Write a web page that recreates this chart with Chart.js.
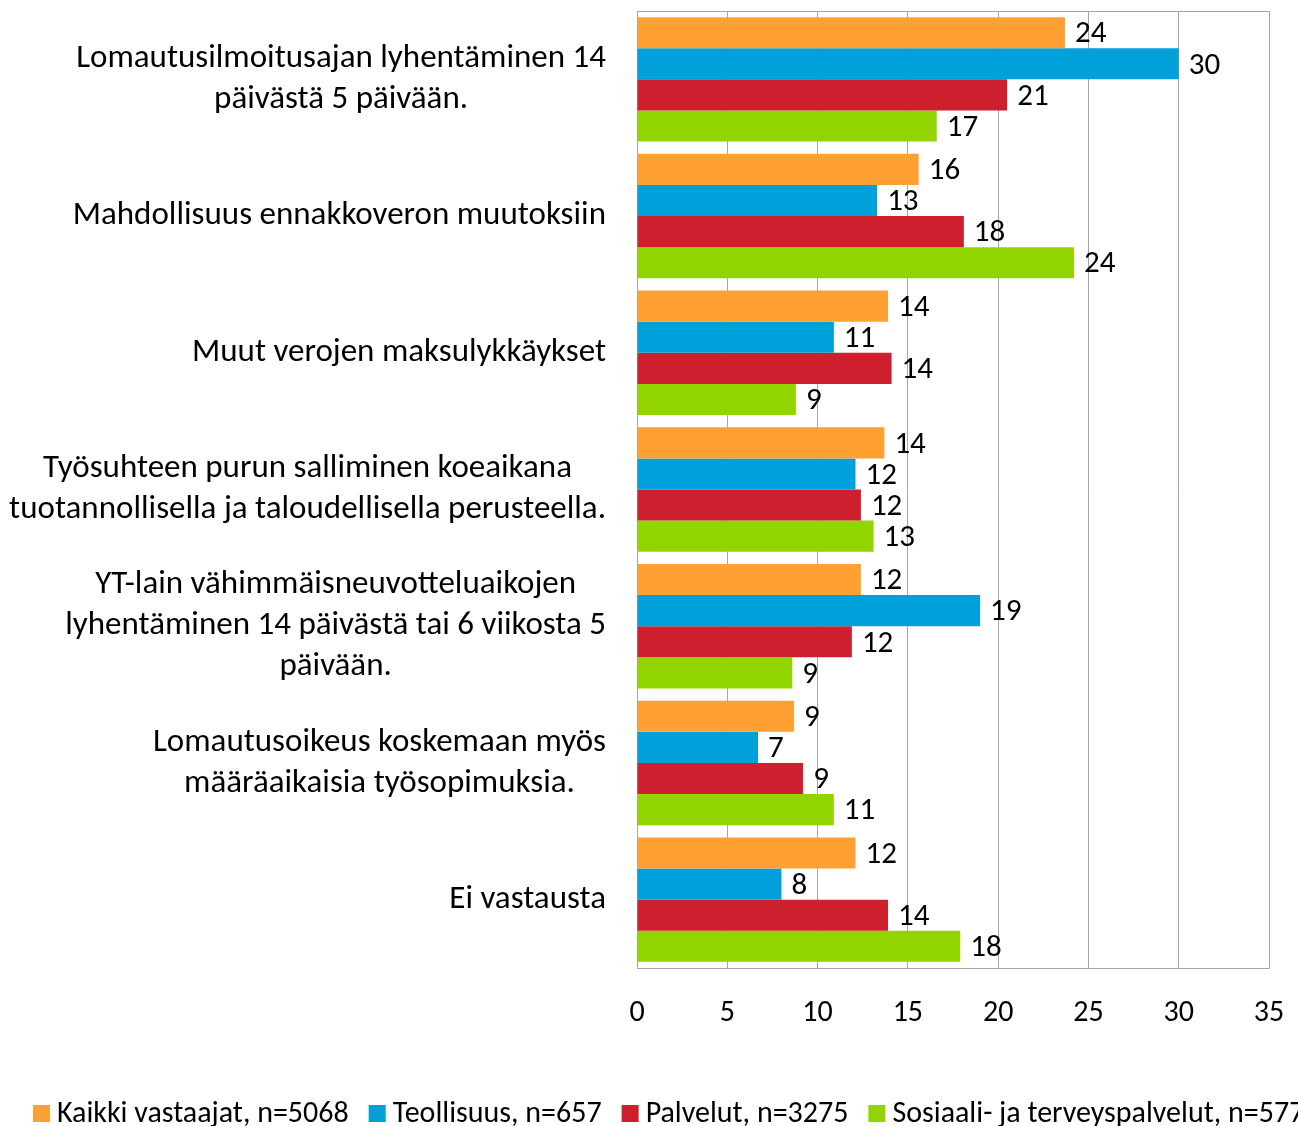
<!DOCTYPE html>
<html>
<head>
<meta charset="utf-8">
<script src="https://cdn.jsdelivr.net/npm/chart.js@4/dist/chart.umd.min.js"></script>
<style>
  body { margin: 0; background: #fff; }
  #wrap { width: 1298px; height: 1126px; position: relative; }
</style>
</head>
<body>
<div id="wrap"><canvas id="myChart"></canvas></div>
<script>
// categories (multi-line labels as in the original)
const categories = [
  ['Lomautusilmoitusajan lyhentäminen 14', 'päivästä 5 päivään.'],
  ['Mahdollisuus ennakkoveron muutoksiin'],
  ['Muut verojen maksulykkäykset'],
  ['Työsuhteen purun salliminen koeaikana', 'tuotannollisella ja taloudellisella perusteella.'],
  ['YT-lain vähimmäisneuvotteluaikojen', 'lyhentäminen 14 päivästä tai 6 viikosta 5', 'päivään.'],
  ['Lomautusoikeus koskemaan myös', 'määräaikaisia työsopimuksia.'],
  ['Ei vastausta']
];

const seriesNames = [
  'Kaikki vastaajat, n=5068',
  'Teollisuus, n=657',
  'Palvelut, n=3275',
  'Sosiaali- ja terveyspalvelut, n=577'
];

const kaikki   = [23.7, 15.6, 13.9, 13.7, 12.4, 8.7, 12.1];
const teoll    = [30.0, 13.3, 10.9, 12.1, 19.0, 6.7, 8.0];
const palvelut = [20.5, 18.1, 14.1, 12.4, 11.9, 9.2, 13.9];
const sote     = [16.6, 24.2, 8.8, 13.1, 8.6, 10.9, 17.9];

const xTicks = [0, 5, 10, 15, 20, 25, 30, 35];

const colors = ['#FFA032', '#00A0DA', '#CD1F2E', '#92D400'];
const FONT = 'Carlito, Lato, sans-serif';

// values next to bar ends
const valueLabels = {
  id: 'valueLabels',
  afterDatasetsDraw(chart) {
    const ctx = chart.ctx;
    ctx.save();
    ctx.font = '31px ' + FONT;
    ctx.fillStyle = '#000';
    ctx.textAlign = 'left';
    ctx.textBaseline = 'middle';
    chart.data.datasets.forEach((ds, i) => {
      chart.getDatasetMeta(i).data.forEach((bar, j) => {
        ctx.fillText(Math.round(ds.data[j]), bar.x + 10, bar.y + 2);
      });
    });
    ctx.restore();
  }
};

// category labels: block right aligned, lines centered inside the block
const catLabels = {
  id: 'catLabels',
  afterDraw(chart) {
    const ctx = chart.ctx;
    const y = chart.scales.y;
    ctx.save();
    ctx.font = '33px ' + FONT;
    ctx.fillStyle = '#000';
    ctx.textAlign = 'center';
    ctx.textBaseline = 'middle';
    const right = chart.chartArea.left - 31;
    const lh = 41;
    categories.forEach((lines, i) => {
      const w = Math.max(...lines.map(l => ctx.measureText(l).width));
      const cx = right - w / 2;
      const cy = y.getPixelForValue(i);
      lines.forEach((l, k) => {
        ctx.fillText(l, cx, cy + (k - (lines.length - 1) / 2) * lh);
      });
    });
    ctx.restore();
  }
};

// plot area frame
const frame = {
  id: 'frame',
  beforeDatasetsDraw(chart) {
    const a = chart.chartArea;
    const ctx = chart.ctx;
    ctx.save();
    ctx.strokeStyle = '#A6A6A6';
    ctx.lineWidth = 1;
    ctx.strokeRect(Math.round(a.left) + 0.5, Math.round(a.top) + 0.5, Math.round(a.right - a.left), Math.round(a.bottom - a.top));
    ctx.restore();
  }
};

// legend in one row, clipped by the canvas like the original
const bottomLegend = {
  id: 'bottomLegend',
  afterDraw(chart) {
    const ctx = chart.ctx;
    ctx.save();
    ctx.font = '30px ' + FONT;
    ctx.textBaseline = 'middle';
    ctx.textAlign = 'left';
    let x = 33;
    const yy = 1113;
    chart.data.datasets.forEach((ds) => {
      ctx.fillStyle = ds.backgroundColor;
      ctx.fillRect(x, yy - 8, 17, 17);
      ctx.fillStyle = '#000';
      ctx.fillText(ds.label, x + 24, yy + 1);
      x += 24 + ctx.measureText(ds.label).width + 20;
    });
    ctx.restore();
  }
};

const ctx = document.getElementById('myChart').getContext('2d');
const myChart = new Chart(ctx, {
  type: 'bar',
  data: {
    labels: categories.map(c => c.join(' ')),
    datasets: [kaikki, teoll, palvelut, sote].map((d, i) => ({
      label: seriesNames[i],
      data: d,
      backgroundColor: colors[i],
      borderWidth: 0,
      barPercentage: 1,
      categoryPercentage: 0.91
    }))
  },
  options: {
    indexAxis: 'y',
    responsive: true,
    maintainAspectRatio: false,
    animation: false,
    layout: { padding: { top: 11, right: 29, bottom: 98, left: 0 } },
    plugins: {
      legend: { display: false },
      tooltip: { enabled: false }
    },
    scales: {
      x: {
        min: 0,
        max: 35,
        afterBuildTicks: s => { s.ticks = xTicks.map(v => ({ value: v })); },
        afterFit: s => { s.height = 60; s.paddingLeft = 0; s.paddingRight = 0; },
        grid: { color: '#A6A6A6', drawTicks: false },
        border: { color: '#A6A6A6' },
        ticks: { color: '#000', padding: 27, font: { family: FONT, size: 30 } }
      },
      y: {
        afterFit: s => { s.width = 637; },
        grid: { display: false, drawTicks: false },
        border: { color: '#A6A6A6' },
        ticks: { display: false }
      }
    }
  },
  plugins: [frame, valueLabels, catLabels, bottomLegend]
});
</script>
</body>
</html>
